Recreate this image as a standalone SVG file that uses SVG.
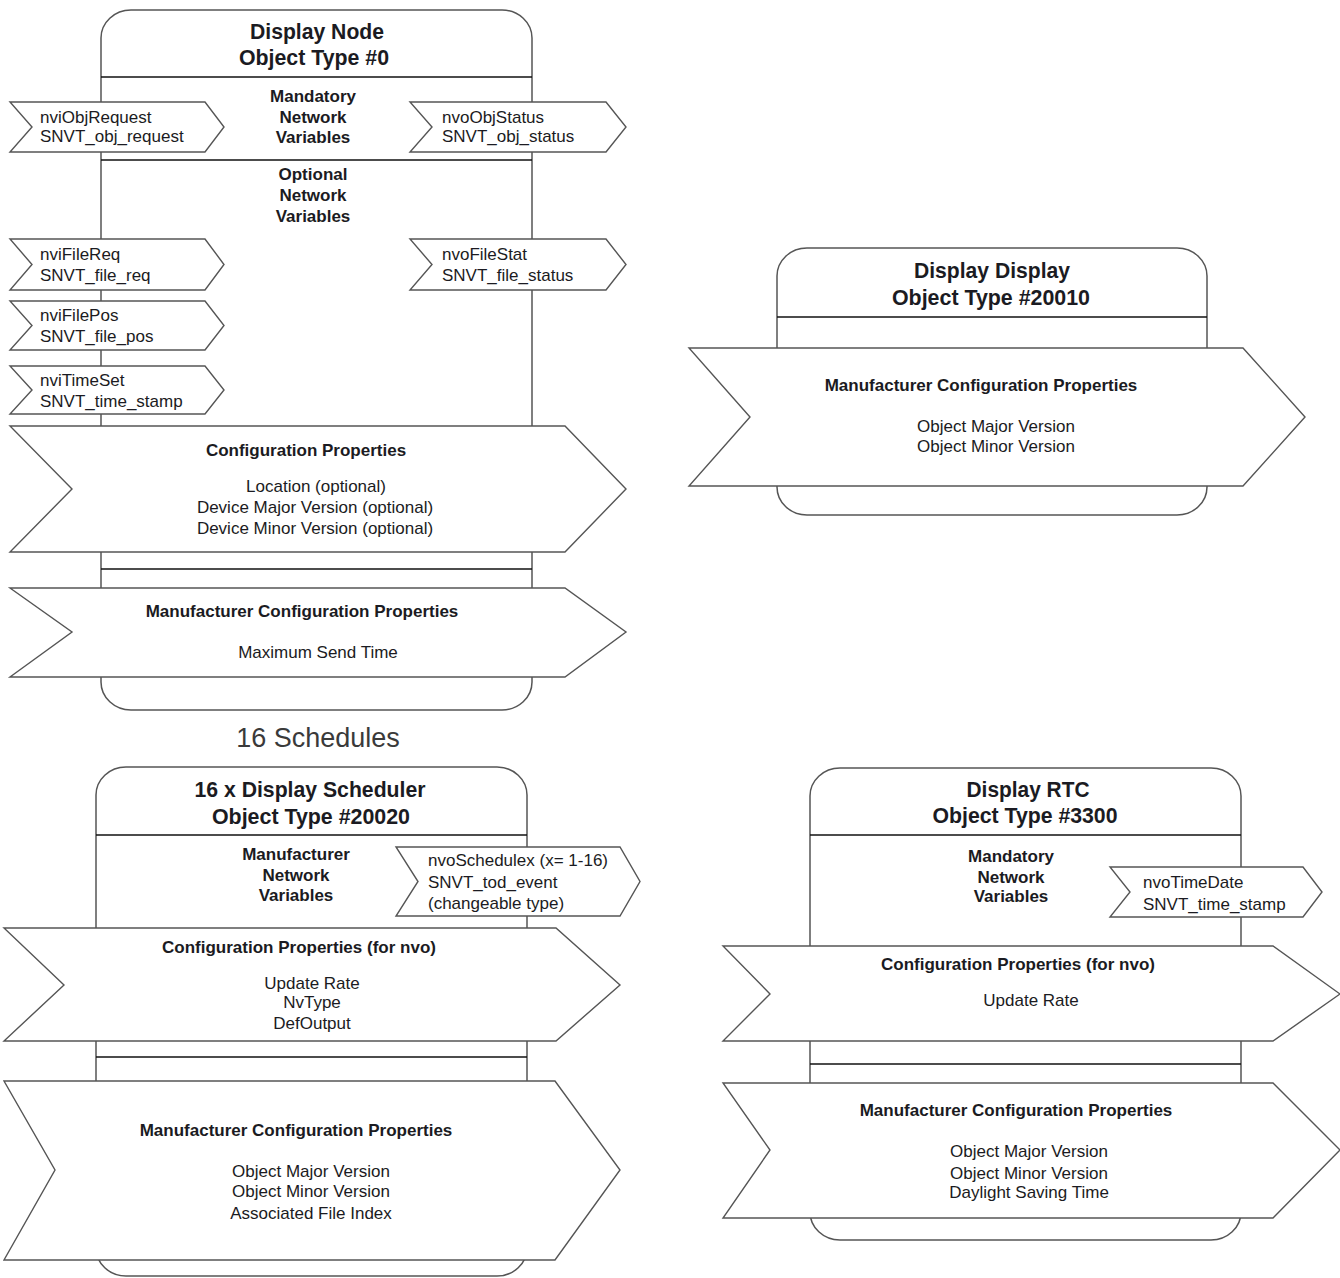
<svg xmlns="http://www.w3.org/2000/svg" width="1340" height="1278" viewBox="0 0 1340 1278">
<style>
.box{fill:#fff;stroke:#555;stroke-width:1.5}
.div{stroke:#111;stroke-width:1.6}
.arr{fill:#fff;stroke:#555;stroke-width:1.4;stroke-linejoin:miter}
text{font-family:"Liberation Sans",Arial,sans-serif;fill:#1b1b22}
.hd{font-size:22.5px;font-weight:bold;text-anchor:middle}
.b{font-size:17px;font-weight:bold;text-anchor:middle}
.c{font-size:17px;text-anchor:middle}
.l{font-size:17px}
.big{font-size:27px;fill:#3a3a3a;text-anchor:middle}
</style>
<rect width="1340" height="1278" fill="#fff"/>
<g id="connectors"/>

<g id="display-node">
<rect class="box" x="101" y="10" width="431" height="700" rx="30" ry="28"/>
<line class="div" x1="101" y1="77" x2="532" y2="77"/>
<line class="div" x1="101" y1="160" x2="532" y2="160"/>
<line class="div" x1="101" y1="569" x2="532" y2="569"/>
<text class="hd" x="317" y="39" textLength="134" lengthAdjust="spacingAndGlyphs">Display Node</text>
<text class="hd" x="314" y="65" textLength="150" lengthAdjust="spacingAndGlyphs">Object Type #0</text>
<text class="b" x="313" y="102">Mandatory</text>
<text class="b" x="313" y="123">Network</text>
<text class="b" x="313" y="143">Variables</text>
<polygon class="arr" points="10,102 205,102 224,127 205,152 10,152 32,127"/>
<text class="l" x="40" y="123">nviObjRequest</text>
<text class="l" x="40" y="142">SNVT_obj_request</text>
<polygon class="arr" points="410,102 606,102 626,127 606,152 410,152 432,127"/>
<text class="l" x="442" y="123">nvoObjStatus</text>
<text class="l" x="442" y="142">SNVT_obj_status</text>
<text class="b" x="313" y="180">Optional</text>
<text class="b" x="313" y="201">Network</text>
<text class="b" x="313" y="222">Variables</text>
<polygon class="arr" points="10,239 205,239 224,264.5 205,290 10,290 32,264.5"/>
<text class="l" x="40" y="260">nviFileReq</text>
<text class="l" x="40" y="281">SNVT_file_req</text>
<polygon class="arr" points="410,239 606,239 626,264.5 606,290 410,290 432,264.5"/>
<text class="l" x="442" y="260">nvoFileStat</text>
<text class="l" x="442" y="281">SNVT_file_status</text>
<polygon class="arr" points="10,301 205,301 224,325.5 205,350 10,350 32,325.5"/>
<text class="l" x="40" y="321">nviFilePos</text>
<text class="l" x="40" y="342">SNVT_file_pos</text>
<polygon class="arr" points="10,366 205,366 224,390 205,414 10,414 32,390"/>
<text class="l" x="40" y="386">nviTimeSet</text>
<text class="l" x="40" y="407">SNVT_time_stamp</text>
<polygon class="arr" points="10,426 565,426 626,489 565,552 10,552 72,489"/>
<text class="b" x="306" y="456">Configuration Properties</text>
<text class="c" x="316" y="492">Location (optional)</text>
<text class="c" x="315" y="513">Device Major Version (optional)</text>
<text class="c" x="315" y="534">Device Minor Version (optional)</text>
<polygon class="arr" points="10,588 565,588 626,632 565,677 10,677 72,632"/>
<text class="b" x="302" y="617">Manufacturer Configuration Properties</text>
<text class="c" x="318" y="658">Maximum Send Time</text>
</g>

<text class="big" x="318" y="747">16 Schedules</text>

<g id="display-display">
<rect class="box" x="777" y="248" width="430" height="267" rx="30" ry="28"/>
<line class="div" x1="777" y1="317" x2="1207" y2="317"/>
<text class="hd" x="992" y="278" textLength="156" lengthAdjust="spacingAndGlyphs">Display Display</text>
<text class="hd" x="991" y="305" textLength="198" lengthAdjust="spacingAndGlyphs">Object Type #20010</text>
<polygon class="arr" points="689,348 1243,348 1305,417 1243,486 689,486 750,417"/>
<text class="b" x="981" y="391">Manufacturer Configuration Properties</text>
<text class="c" x="996" y="432">Object Major Version</text>
<text class="c" x="996" y="452">Object Minor Version</text>
</g>

<g id="display-scheduler">
<rect class="box" x="96" y="767" width="431" height="509" rx="30" ry="28"/>
<line class="div" x1="96" y1="835" x2="527" y2="835"/>
<line class="div" x1="96" y1="1057" x2="527" y2="1057"/>
<text class="hd" x="310" y="797" textLength="231" lengthAdjust="spacingAndGlyphs">16 x Display Scheduler</text>
<text class="hd" x="311" y="824" textLength="198" lengthAdjust="spacingAndGlyphs">Object Type #20020</text>
<text class="b" x="296" y="860">Manufacturer</text>
<text class="b" x="296" y="881">Network</text>
<text class="b" x="296" y="901">Variables</text>
<polygon class="arr" points="396,847 620,847 640,881.5 620,916 396,916 418,881.5"/>
<text class="l" x="428" y="866">nvoSchedulex (x= 1-16)</text>
<text class="l" x="428" y="888">SNVT_tod_event</text>
<text class="l" x="428" y="909">(changeable type)</text>
<polygon class="arr" points="4,928 556,928 620,985 556,1041 4,1041 64,985"/>
<text class="b" x="299" y="953">Configuration Properties (for nvo)</text>
<text class="c" x="312" y="989">Update Rate</text>
<text class="c" x="312" y="1008">NvType</text>
<text class="c" x="312" y="1029">DefOutput</text>
<polygon class="arr" points="4,1081 555,1081 620,1170 555,1260 4,1260 55,1170"/>
<text class="b" x="296" y="1136">Manufacturer Configuration Properties</text>
<text class="c" x="311" y="1177">Object Major Version</text>
<text class="c" x="311" y="1197">Object Minor Version</text>
<text class="c" x="311" y="1219">Associated File Index</text>
</g>

<g id="display-rtc">
<rect class="box" x="810" y="768" width="431" height="472" rx="30" ry="28"/>
<line class="div" x1="810" y1="835" x2="1241" y2="835"/>
<line class="div" x1="810" y1="1064" x2="1241" y2="1064"/>
<text class="hd" x="1028" y="797" textLength="123" lengthAdjust="spacingAndGlyphs">Display RTC</text>
<text class="hd" x="1025" y="823" textLength="185" lengthAdjust="spacingAndGlyphs">Object Type #3300</text>
<text class="b" x="1011" y="862">Mandatory</text>
<text class="b" x="1011" y="883">Network</text>
<text class="b" x="1011" y="902">Variables</text>
<polygon class="arr" points="1110,867 1303,867 1322,892 1303,917 1110,917 1130,892"/>
<text class="l" x="1143" y="888">nvoTimeDate</text>
<text class="l" x="1143" y="910">SNVT_time_stamp</text>
<polygon class="arr" points="723,946 1273,946 1340,994 1273,1041 723,1041 770,994"/>
<text class="b" x="1018" y="970">Configuration Properties (for nvo)</text>
<text class="c" x="1031" y="1006">Update Rate</text>
<polygon class="arr" points="723,1083 1273,1083 1340,1150 1273,1218 723,1218 770,1150"/>
<text class="b" x="1016" y="1116">Manufacturer Configuration Properties</text>
<text class="c" x="1029" y="1157">Object Major Version</text>
<text class="c" x="1029" y="1179">Object Minor Version</text>
<text class="c" x="1029" y="1198">Daylight Saving Time</text>
</g>
</svg>
